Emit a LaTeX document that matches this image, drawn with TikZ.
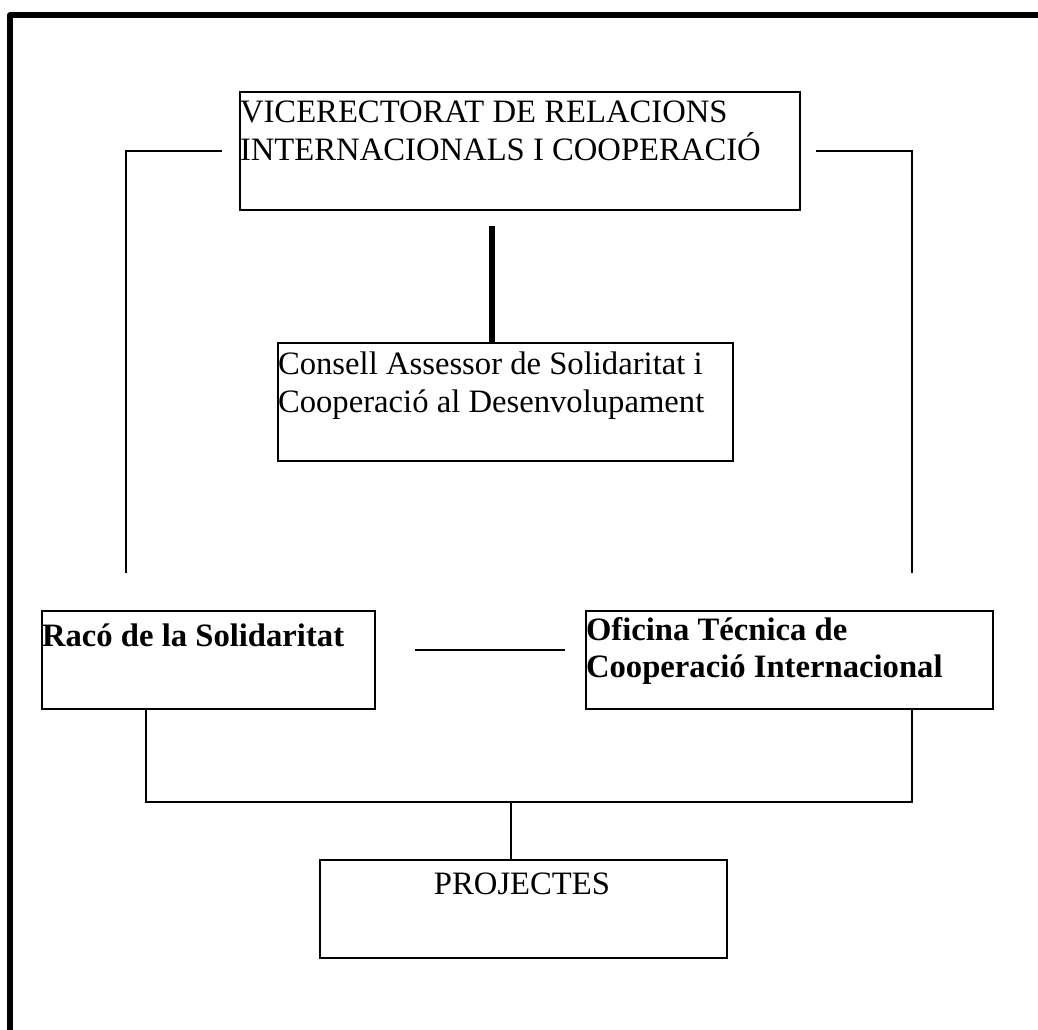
\documentclass[tikz,border=0pt]{standalone}
\usepackage{fontspec}
\setmainfont{Liberation Serif}
\usetikzlibrary{calc}
\begin{document}
\begin{tikzpicture}[x=0.75pt,y=-0.75pt,
  box/.style={draw,line width=1.5pt,rectangle,inner sep=0pt,outer sep=0pt,anchor=north west},
  txt/.style={inner sep=0pt,outer sep=0pt,anchor=base west,font=\fontsize{24.5}{30}\selectfont},
  btxt/.style={txt,font=\fontsize{24.5}{30}\selectfont\bfseries},
  conn/.style={line width=1.4pt},
  thickconn/.style={line width=5pt},
  frame/.style={line width=4.2pt,line join=round}]
\useasboundingbox (0,0) rectangle (1038,1030);
% outer frame (only top and left visible)
\coordinate (fr1) at (1045,15);
\coordinate (fr2) at (10,15);
\coordinate (fr3) at (10,1040);
\draw[frame] (fr1) -- (fr2) -- (fr3);
% boxes
\node[box,minimum width=420pt,minimum height=88.5pt] (vice) at (240,92) {};
\node[box,minimum width=341.25pt,minimum height=88.5pt] (cons) at (278,343) {};
\node[box,minimum width=249.75pt,minimum height=73.5pt] (raco) at (42,611) {};
\node[box,minimum width=305.25pt,minimum height=73.5pt] (ofic) at (586,611) {};
\node[box,minimum width=305.25pt,minimum height=73.5pt] (proj) at (320,860) {};
% texts
\node[txt] (vice1) at (240,123) {VICERECTORAT DE RELACIONS};
\node[txt] (vice2) at (240,161) {INTERNACIONALS I COOPERACIÓ};
\node[txt] (cons1) at (278,374) {Consell Assessor de Solidaritat i};
\node[txt] (cons2) at (278,412) {Cooperació al Desenvolupament};
\node[btxt] (raco1) at (42,646) {Racó de la Solidaritat};
\node[btxt] (ofic1) at (586,640) {Oficina Técnica de};
\node[btxt] (ofic2) at (586,677) {Cooperació Internacional};
\node[txt,anchor=base] (proj1) at (522,894) {PROJECTES};
% connectors
\coordinate (lb1) at (222,151);
\coordinate (lb2) at (126,573);
\draw[conn] (lb1) -| (lb2);
\coordinate (rb1) at (816,151);
\coordinate (rb2) at (912,573);
\draw[conn] (rb1) -| (rb2);
\coordinate (tc) at (492,226);
\draw[thickconn] (tc) -- (tc |- cons.north);
\coordinate (m1) at (415,650);
\coordinate (m2) at (565,650);
\draw[conn] (m1) -- (m2);
\coordinate (bl) at (146,802);
\coordinate (br) at (912,802);
\coordinate (bm) at (511,802);
\draw[conn] (bl |- raco.south) -- (bl) -- (br) -- (br |- ofic.south);
\draw[conn] (bm) -- (bm |- proj.north);
\end{tikzpicture}
\end{document}
